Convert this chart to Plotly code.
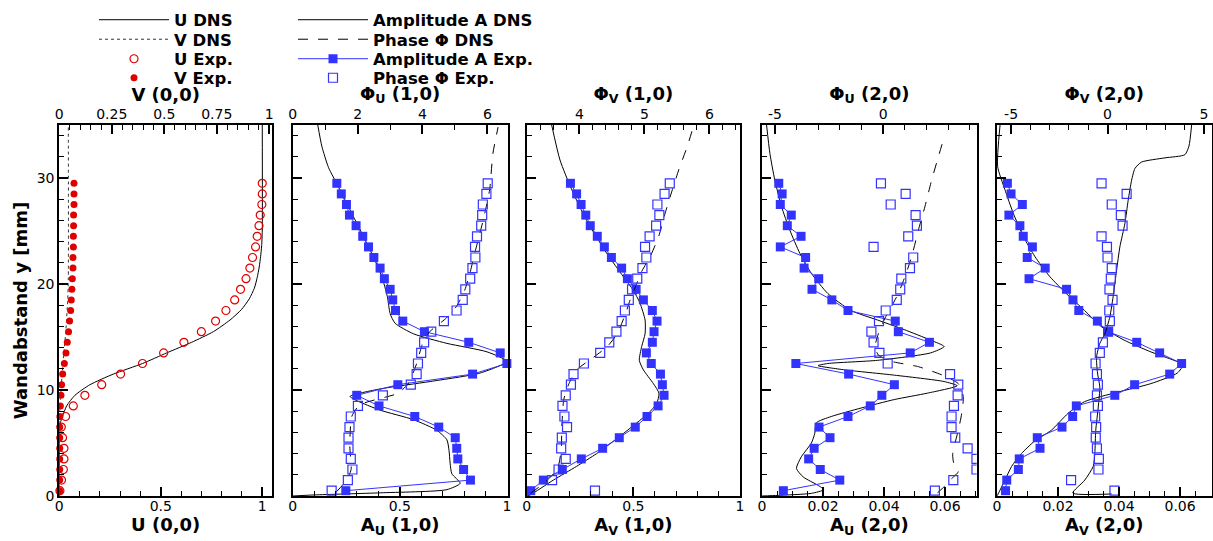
import plotly.graph_objects as go

# ---------------- data ----------------
y_exp = [0.5, 1.5, 2.5, 3.5, 4.5, 5.5, 6.5, 7.5, 8.5, 9.5, 10.5, 11.5, 12.5, 13.5, 14.5,
         15.5, 16.5, 17.5, 18.5, 19.5, 20.5, 21.5, 22.5, 23.5, 24.5, 25.5, 26.5, 27.5, 28.5, 29.5]

# panel 1: mean flow (0,0)
u_exp = [0.003, 0.011, 0.02, 0.023, 0.023, 0.016, 0.01, 0.031, 0.069, 0.126, 0.209, 0.302, 0.41, 0.514, 0.614,
         0.70, 0.77, 0.821, 0.864, 0.893, 0.92, 0.939, 0.952, 0.967, 0.975, 0.984, 0.99, 0.998, 1.0, 1.0]
v_exp = [0.002, 0.002, 0.002, 0.002, 0.002, 0.002, 0.002, 0.003, 0.005, 0.008, 0.011, 0.016, 0.024, 0.032, 0.038,
         0.044, 0.049, 0.054, 0.057, 0.060, 0.062, 0.065, 0.065, 0.067, 0.067, 0.068, 0.068, 0.070, 0.070, 0.070]
y_u_dns = [0, 6.0, 6.9, 7.5, 8.5, 9.5, 10.5, 11.5, 12.5, 13.5, 14.5, 15.5, 16.6, 17.6, 18.6, 19.6, 20.6, 21.6,
           22.6, 23.6, 25.0, 35.0]
u_dns = [0, 0.002, 0.005, 0.016, 0.036, 0.077, 0.151, 0.266, 0.41, 0.529, 0.652, 0.759, 0.841, 0.898, 0.936,
         0.961, 0.975, 0.985, 0.992, 0.997, 1.0, 1.0]
y_v_dns = [0, 7.2, 9.1, 11.3, 13.5, 15.3, 18.5, 20.6, 35.0]
v_dns = [0, 0, 0.005, 0.013, 0.022, 0.03, 0.04, 0.043, 0.043]

# panel 2: (1,0) U
a_u10_exp = [0.248, 0.83, 0.798, 0.771, 0.766, 0.759, 0.682, 0.57, 0.403, 0.299, 0.491, 0.84, 1.0, 0.969, 0.822,
             0.615, 0.514, 0.48, 0.467, 0.455, 0.428, 0.408, 0.379, 0.354, 0.327, 0.296, 0.265, 0.251, 0.227, 0.206]
p_u10_exp = [1.2, 1.70, 1.84, 1.79, 1.72, 1.72, 1.75, 1.79, 2.01, 2.78, 3.64, 3.82, 3.86, 3.96, 4.05,
             4.27, 4.66, 5.05, 5.24, 5.32, 5.47, 5.54, 5.63, 5.62, 5.68, 5.81, 5.84, 5.86, 5.97, 6.01]
y_a_u10_dns = [0, 0.1, 0.3, 0.6, 1.2, 2.1, 3.1, 4.3, 5.3, 6.2, 7.2, 8.1, 9.0, 9.4, 10.1, 10.8, 11.6, 12.7,
               13.6, 14.4, 15.3, 16.3, 17.2, 18.8, 20.7, 22.9, 25.1, 27.3, 29.2, 31.0, 33.0, 35.0]
a_u10_dns = [0, 0.1, 0.41, 0.72, 0.782, 0.743, 0.735, 0.73, 0.72, 0.673, 0.564, 0.408, 0.299, 0.268, 0.408,
             0.642, 0.875, 1.0, 0.907, 0.72, 0.564, 0.478, 0.455, 0.442, 0.416, 0.369, 0.315, 0.26, 0.213,
             0.167, 0.136, 0.117]
y_p_u10_dns = [0.4, 1.5, 2.5, 4.7, 7.5, 8.6, 9.7, 10.6, 11.6, 12.5, 14.1, 15.0, 15.8, 16.8, 17.9, 19.4, 21.0,
               22.9, 24.8, 26.4, 28.9, 32.3, 34.8]
p_u10_dns = [1.35, 1.66, 1.8, 1.76, 1.82, 2.07, 3.25, 3.56, 3.71, 3.82, 3.97, 4.07, 4.33, 4.74, 5.05, 5.3, 5.46,
             5.61, 5.77, 5.9, 6.07, 6.17, 6.33]

# panel 3: (1,0) V
a_v10_exp = [0.019, 0.078, 0.167, 0.256, 0.356, 0.434, 0.509, 0.564, 0.616, 0.644, 0.636, 0.627, 0.584, 0.561,
             0.589, 0.597, 0.611, 0.589, 0.547, 0.513, 0.472, 0.445, 0.397, 0.364, 0.331, 0.298, 0.277, 0.255,
             0.234, 0.205]
p_v10_exp = [4.24, 3.58, 3.68, 3.79, 3.72, 3.73, 3.81, 3.77, 3.74, 3.79, 3.87, 3.91, 4.07, 4.32, 4.46,
             4.57, 4.65, 4.7, 4.76, 4.81, 4.89, 4.97, 5.03, 5.01, 5.08, 5.18, 5.23, 5.2, 5.31, 5.39]
y_a_v10_dns = [0, 0.1, 1.5, 2.8, 4.0, 5.4, 6.9, 7.8, 8.7, 9.7, 10.6, 11.9, 12.8, 14.1, 15.3, 16.6, 18.2, 19.4,
               20.7, 22.9, 26.0, 28.9, 31.7, 35.0]
a_v10_dns = [0, 0.016, 0.125, 0.234, 0.328, 0.422, 0.516, 0.57, 0.609, 0.62, 0.594, 0.547, 0.528, 0.539, 0.555,
             0.555, 0.531, 0.5, 0.453, 0.375, 0.281, 0.211, 0.156, 0.117]
y_p_v10_dns = [0.25, 1.2, 2.5, 4.3, 6.5, 9.1, 10.6, 11.9, 13.1, 14.1, 15.3, 17.2, 18.5, 19.7, 21.2, 22.6, 24.5,
               26.7, 28.9, 30.8, 33.0, 35.0]
p_v10_dns = [3.25, 3.45, 3.66, 3.72, 3.73, 3.76, 3.84, 3.96, 4.22, 4.43, 4.58, 4.71, 4.78, 4.86, 4.96, 5.09,
             5.22, 5.32, 5.43, 5.53, 5.66, 5.76]

# panel 4: (2,0) U
a_u20_exp = [0.007, 0.0255, 0.0191, 0.0153, 0.0171, 0.0223, 0.0187, 0.0282, 0.0355, 0.0393, 0.0434, 0.0284,
             0.0111, 0.0486, 0.0549, 0.0447, 0.0437, 0.0282, 0.0229, 0.0164, 0.0186, 0.0138, 0.0143, 0.006,
             0.0128, 0.0083, 0.0096, 0.006, 0.0066, 0.0055]
p_u20_exp = [2.38, 3.23, 4.3, 4.3, 3.89, 3.32, 3.15, 3.15, 3.26, 3.43, 3.46, 3.08, 0.2, -0.18, -0.45,
             -0.55, -0.2, 0.11, 0.62, 0.78, 0.83, 1.23, 1.38, -0.45, 1.15, 1.55, 1.49, 0.34, 1.03, -0.11]
y_a_u20_dns = [0, 0.06, 0.25, 0.6, 1.0, 1.8, 2.6, 3.7, 5.0, 5.9, 6.9, 7.5, 8.3, 9.1, 9.7, 10.4, 10.8, 11.4,
               11.9, 12.3, 12.5, 12.8, 13.5, 14.1, 14.7, 15.7, 16.6, 17.5, 19.1, 21.0, 22.9, 25.1, 27.3, 29.8,
               32.3, 35.0]
a_u20_dns = [0, 0.0053, 0.0162, 0.0203, 0.0184, 0.0135, 0.0113, 0.0129, 0.0162, 0.0173, 0.0178, 0.0227,
             0.0325, 0.0434, 0.0542, 0.064, 0.0597, 0.0434, 0.0271, 0.0184, 0.0216, 0.0379, 0.0553, 0.0597,
             0.0553, 0.0466, 0.0379, 0.0292, 0.0216, 0.0162, 0.0124, 0.0091, 0.0064, 0.0042, 0.0026, 0.0015]
y_p_u20_dns = [0.3, 0.9, 1.5, 2.3, 3.1, 3.9, 5.0, 6.2, 7.8, 9.4, 10.6, 11.3, 12.2, 12.7, 13.3, 14.1, 15.3,
               16.8, 17.9, 19.1, 20.7, 22.6, 25.1, 27.3, 29.8, 32.0, 33.6]
p_u20_dns = [2.5, 2.82, 3.08, 3.46, 3.25, 3.2, 3.31, 3.46, 3.62, 3.69, 3.46, 2.85, 1.62, 0.38, -0.23, -0.38,
             -0.23, 0.08, 0.38, 0.69, 1.0, 1.31, 1.62, 1.92, 2.23, 2.54, 2.77]

# panel 5: (2,0) V
a_v20_exp = [0.0028, 0.0032, 0.007, 0.0073, 0.0141, 0.0132, 0.0213, 0.0248, 0.026, 0.0386, 0.0451, 0.0566,
             0.0605, 0.0533, 0.0458, 0.0363, 0.0329, 0.0268, 0.0249, 0.0228, 0.0105, 0.0158, 0.0099, 0.0116,
             0.0086, 0.0075, 0.0039, 0.0083, 0.0046, 0.0034]
p_v20_exp = [0.36, -1.89, -0.47, -0.45, -0.55, -0.61, -0.59, -0.64, -0.5, -0.55, -0.5, -0.55, -0.62, -0.4,
             -0.24, 0.03, 0.12, 0.09, 0.26, 0.1, 0.17, 0.22, 0.0, -0.03, -0.31, 0.78, 0.69, 0.22, 0.99, -0.31]
y_a_v20_dns = [0, 0.1, 1.5, 2.8, 4.0, 5.2, 6.2, 7.8, 8.9, 9.8, 10.6, 11.6, 12.4, 12.8, 13.6, 14.7, 16.0, 17.5,
               19.1, 20.7, 22.6, 24.5, 26.7, 28.9, 31.1, 35.0]
a_v20_dns = [0, 0.0002, 0.0026, 0.0048, 0.008, 0.0124, 0.0178, 0.0233, 0.0287, 0.0396, 0.0504, 0.0591, 0.061,
             0.058, 0.0504, 0.0417, 0.0341, 0.0287, 0.0227, 0.0173, 0.0124, 0.0086, 0.0053, 0.0026, 0.0002, 0.001]
y_p_v20_dns = [0.19, 0.28, 1.5, 2.8, 4.0, 6.2, 8.4, 10.3, 11.6, 13.1, 14.4, 15.3, 16.9, 18.8, 21.3, 23.5, 25.7,
               27.9, 29.8, 30.9, 31.5, 31.9, 32.2, 33.0, 35.0]
p_v20_dns = [0.22, -1.8, -1.18, -0.74, -0.66, -0.61, -0.48, -0.4, -0.52, -0.57, -0.4, -0.14, 0.12, 0.29, 0.47,
             0.64, 0.9, 1.07, 1.25, 1.42, 1.76, 2.98, 4.01, 4.22, 4.36]

# tick labels for phase axes of the (2,0) panels
phase_u20_tickvals = [-5, 0]
phase_u20_ticktext = ["-5", "0"]
phase_v20_tickvals = [-5, 0, 5]
phase_v20_ticktext = ["-5", "0", "5"]

# ---------------- styling ----------------
FONT = "DejaVu Sans, Verdana, sans-serif"
BLUE = "#3333ff"
RED = "#e00000"
W, H = 1213, 541

fig = go.Figure()

def dns(x, y, xa, ya, name=None, dash="solid", legend=None, color="black", width=1):
    fig.add_trace(go.Scatter(
        x=x, y=y, xaxis=xa, yaxis=ya, mode="lines", name=name,
        line=dict(color=color, width=width, dash=dash, shape="spline", smoothing=0.6),
        showlegend=legend is not None, legend=legend or "legend", hoverinfo="skip"))

def amp_exp(x, y, xa, ya, name=None, legend=None):
    fig.add_trace(go.Scatter(
        x=x, y=y, xaxis=xa, yaxis=ya, mode="lines+markers", name=name,
        line=dict(color=BLUE, width=1),
        marker=dict(symbol="square", size=9, color=BLUE),
        cliponaxis=False,
        showlegend=legend is not None, legend=legend or "legend"))

def ph_exp(x, y, xa, ya, name=None, legend=None, clip=False):
    fig.add_trace(go.Scatter(
        x=x, y=y, xaxis=xa, yaxis=ya, mode="markers", name=name,
        marker=dict(symbol="square-open", size=9, color=BLUE, line=dict(width=1.2)),
        cliponaxis=clip,
        showlegend=legend is not None, legend=legend or "legend"))

# legend entries of panel 1
dns(u_dns, y_u_dns, "x", "y", name="U DNS", legend="legend")
dns(v_dns, y_v_dns, "x6", "y", name="V DNS", dash="dot", legend="legend2", color="#333333")
fig.add_trace(go.Scatter(x=u_exp, y=y_exp, xaxis="x", yaxis="y", mode="markers", name="U Exp.",
                         marker=dict(symbol="circle-open", size=8, color=RED, line=dict(width=1.2)),
                         cliponaxis=False, legend="legend3"))
fig.add_trace(go.Scatter(x=v_exp, y=y_exp, xaxis="x6", yaxis="y", mode="markers", name="V Exp.",
                         marker=dict(symbol="circle", size=7, color=RED),
                         cliponaxis=False, legend="legend4"))

# legend entries of panel 2
dns(a_u10_dns, y_a_u10_dns, "x2", "y2", name="Amplitude A DNS", legend="legend5")
dns(p_u10_dns, y_p_u10_dns, "x7", "y2", name="Phase \u03a6 DNS", dash="10px,10px", legend="legend6")
amp_exp(a_u10_exp, y_exp, "x2", "y2", name="Amplitude A Exp.", legend="legend7")
ph_exp(p_u10_exp, y_exp, "x7", "y2", name="Phase \u03a6 Exp.", legend="legend8")

# panel 3
dns(a_v10_dns, y_a_v10_dns, "x3", "y3")
dns(p_v10_dns, y_p_v10_dns, "x8", "y3", dash="10px,10px")
amp_exp(a_v10_exp, y_exp, "x3", "y3")
ph_exp(p_v10_exp, y_exp, "x8", "y3")

# panel 4
dns(a_u20_dns, y_a_u20_dns, "x4", "y4")
dns(p_u20_dns, y_p_u20_dns, "x9", "y4", dash="10px,10px")
amp_exp(a_u20_exp, y_exp, "x4", "y4")
ph_exp(p_u20_exp, y_exp, "x9", "y4", clip=True)

# panel 5
dns(a_v20_dns, y_a_v20_dns, "x5", "y5")
dns(p_v20_dns, y_p_v20_dns, "x10", "y5")
amp_exp(a_v20_exp, y_exp, "x5", "y5")
ph_exp(p_v20_exp, y_exp, "x10", "y5")

# ---------------- axes ----------------
px_dom = [(59.3, 272.0), (292.7, 507.5), (526.7, 740.0), (762.0, 976.7), (997.0, 1211.5)]
ydom = [45 / H, 416 / H]

bottom_titles = ["U (0,0)", "A<sub>U</sub> (1,0)", "A<sub>V</sub> (1,0)", "A<sub>U</sub> (2,0)", "A<sub>V</sub> (2,0)"]
top_titles = ["V (0,0)", "\u03a6<sub>U</sub> (1,0)", "\u03a6<sub>V</sub> (1,0)", "\u03a6<sub>U</sub> (2,0)", "\u03a6<sub>V</sub> (2,0)"]
bottom_ranges = [[0, 1.048], [0, 1.003], [0, 1.0], [0, 0.0704], [0, 0.0703]]
top_ranges = [[0, 1.013], [0, 6.62], [3.19, 6.47], [-5.6, 4.31], [-5.73, 5.39]]
bottom_dtick = [0.5, 0.5, 0.5, 0.02, 0.02]
bottom_minor = [0.1, 0.1, 0.1, 0.005, 0.005]
top_dtick = [0.25, 2, 1, 5, 5]
top_minor = [0.05, 1, 0.2, 1, 1]

tickfont = dict(family=FONT, size=14, color="black")
titlefont = dict(family=FONT, size=18, color="black", weight="bold")

layout = dict(
    width=W, height=H, margin=dict(l=0, r=0, t=0, b=0),
    paper_bgcolor="white", plot_bgcolor="white",
    font=dict(family=FONT, color="black"),
)

for i in range(5):
    d0, d1 = px_dom[i]
    bx = "xaxis" if i == 0 else f"xaxis{i + 1}"
    tx = f"xaxis{i + 6}"
    yk = "yaxis" if i == 0 else f"yaxis{i + 1}"
    yref = "y" if i == 0 else f"y{i + 1}"
    xref = "x" if i == 0 else f"x{i + 1}"
    layout[bx] = dict(
        domain=[d0 / W, d1 / W], anchor=yref, range=bottom_ranges[i],
        tick0=0, dtick=bottom_dtick[i], ticks="inside", ticklen=9, tickwidth=2, tickcolor="black",
        minor=dict(dtick=bottom_minor[i], tick0=0, ticks="inside", ticklen=5, tickwidth=1, tickcolor="black"),
        showline=True, linewidth=2, linecolor="black", showgrid=False, zeroline=False,
        tickfont=tickfont, ticklabelstandoff=-4,
        title=dict(text=bottom_titles[i], font=titlefont, standoff=0),
        automargin=False, fixedrange=True,
    )
    top = dict(
        overlaying=xref, side="top", anchor=yref, range=top_ranges[i],
        tick0=0, dtick=top_dtick[i], ticks="inside", ticklen=9, tickwidth=2, tickcolor="black",
        minor=dict(dtick=top_minor[i], tick0=0, ticks="inside", ticklen=5, tickwidth=1, tickcolor="black"),
        showline=True, linewidth=2, linecolor="black", showgrid=False, zeroline=False,
        tickfont=tickfont, ticklabelstandoff=-2,
        title=dict(text=top_titles[i], font=titlefont, standoff=0),
        automargin=False, fixedrange=True,
    )
    if i == 3:
        top.update(tickmode="array", tickvals=phase_u20_tickvals, ticktext=phase_u20_ticktext)
    if i == 4:
        top.update(tickmode="array", tickvals=phase_v20_tickvals, ticktext=phase_v20_ticktext)
    layout[tx] = top
    ydict = dict(
        domain=ydom, anchor=xref, range=[0, 35], tick0=0, dtick=10,
        ticks="inside", ticklen=9, tickwidth=2, tickcolor="black",
        minor=dict(dtick=2, tick0=0, ticks="inside", ticklen=5, tickwidth=1, tickcolor="black"),
        showline=True, linewidth=2, linecolor="black", mirror=True,
        showgrid=False, zeroline=False, showticklabels=(i == 0), tickfont=tickfont,
        automargin=False, fixedrange=True,
    )
    if i == 0:
        ydict["title"] = dict(text="Wandabstand y [mm]", font=titlefont, standoff=4)
    layout[yk] = ydict

# one legend per entry so that the rows can sit as tightly as in the reference
legfont = dict(family=FONT, size=16.5, color="black", weight="bold")
row_y = [20, 39.5, 59, 78]
for k in range(8):
    key = "legend" if k == 0 else f"legend{k + 1}"
    x0 = 94 if k < 4 else 293
    layout[key] = dict(x=x0 / W, y=1 - row_y[k % 4] / H, xanchor="left", yanchor="middle",
                       bgcolor="rgba(0,0,0,0)", font=legfont, itemwidth=70, tracegroupgap=0)

fig.update_layout(**layout)
fig.write_html("out.html", config={"displayModeBar": False},
               post_script="document.body.style.margin='0px';document.body.style.overflow='hidden';")
